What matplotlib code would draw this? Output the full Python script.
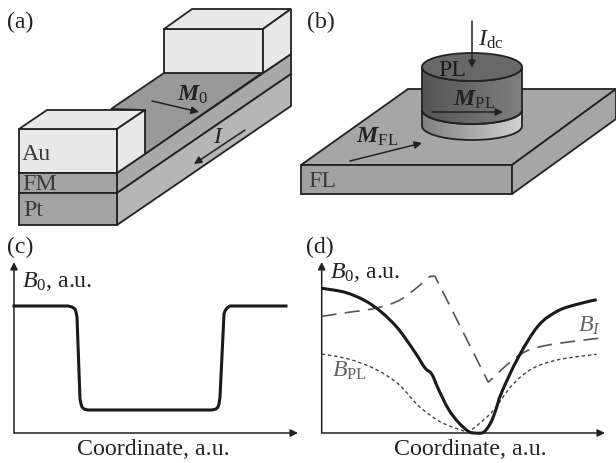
import numpy as np
import matplotlib
matplotlib.use('Agg')
import matplotlib.pyplot as plt
from matplotlib.patches import Polygon, Ellipse, PathPatch
from matplotlib.path import Path

plt.rcParams['font.family'] = ['Liberation Serif', 'DejaVu Serif']
plt.rcParams['mathtext.fontset'] = 'custom'
plt.rcParams['mathtext.rm'] = 'Liberation Serif'
plt.rcParams['mathtext.it'] = 'Liberation Serif:italic'
plt.rcParams['mathtext.bf'] = 'Liberation Serif:italic:bold'

# Curve in panel (c)
c_x = [0, 54, 58, 61, 62, 63, 66, 67, 68, 70, 74, 198, 202, 204, 205, 206, 210, 211, 213, 216, 272]
c_y = [127, 127, 126, 124, 121, 116, 34, 29, 26, 24, 23, 23, 24, 26, 29, 36, 119, 122, 125, 127, 127]

# Curves in panel (d)
total_x = [0, 70, 130, 180, 230, 280, 310, 330, 350, 380, 410, 440, 460, 485, 505,
           520, 540, 590, 650, 710, 770, 825]
total_y = [434, 422, 397, 362, 312, 242, 195, 177, 132, 72, 32, 5, 0, 2, 27,
           62, 122, 227, 322, 367, 387, 400]
current_x = [0, 80, 160, 240, 325, 340, 500, 590, 670, 830]
current_y = [350, 362, 374, 402, 470, 470, 152, 232, 262, 284]
pl_x = [0, 80, 160, 230, 290, 350, 400, 440, 510, 570, 630, 710, 825]
pl_y = [237, 222, 192, 147, 82, 37, 15, 2, 62, 142, 192, 220, 236]

# Panel (a) layers
au_color = '#e9e9e9'
fm_color = '#a4a4a4'
pt_color = '#b6b6b6'
top_color = '#999999'

fig = plt.figure(figsize=(6.16, 4.64), dpi=100)

# Overlay in pixel coordinates for the two sketches
ax = fig.add_axes([0, 0, 1, 1])
ax.set_xlim(0, 616)
ax.set_ylim(464, 0)
ax.axis('off')


def face(pts, color, lw=1.3):
    ax.add_patch(Polygon(pts, closed=True, facecolor=color, edgecolor='#222222', lw=lw))


def arrow(start, end, color='#222222', lw=1.1):
    ax.annotate('', xy=end, xytext=start,
                arrowprops=dict(arrowstyle='-|>', color=color, lw=lw, mutation_scale=11,
                                shrinkA=0, shrinkB=0), zorder=6)


def smooth_path(x, y, corners=()):
    # bezier through the read points, zero tangent at the corners
    p = np.column_stack([x, y]).astype(float)
    m = np.zeros_like(p)
    m[1:-1] = (p[2:] - p[:-2]) / 2
    for i in corners:
        m[i] = 0
    verts = [p[0]]
    codes = [Path.MOVETO]
    for i in range(len(p) - 1):
        verts += [p[i] + m[i] / 3, p[i + 1] - m[i + 1] / 3, p[i + 1]]
        codes += [Path.CURVE4] * 3
    return Path(verts, codes)


# Panel (a)
face([(117, 174), (291, 55), (291, 75), (117, 194)], '#a9a9a9')
face([(117, 194), (291, 75), (291, 107), (117, 226)], pt_color)
face([(111, 110), (164, 74), (262, 74), (145, 155), (145, 111)], top_color)
face([(164, 30), (263, 30), (263, 74), (164, 74)], au_color)
face([(164, 30), (192, 10), (291, 10), (263, 30)], au_color)
face([(263, 30), (291, 10), (291, 55), (263, 74)], au_color)
face([(19, 130), (117, 130), (117, 174), (19, 174)], au_color)
face([(19, 130), (47, 111), (145, 111), (117, 130)], au_color)
face([(117, 130), (145, 111), (145, 155), (117, 174)], au_color)
face([(19, 174), (117, 174), (117, 194), (19, 194)], fm_color)
face([(19, 194), (117, 194), (117, 226), (19, 226)], fm_color)
arrow((152, 102), (199, 113))
arrow((245, 131), (194, 165))

# Panel (b)
face([(301, 166), (408, 90), (616, 90), (512, 166)], '#a6a6a6')
face([(301, 166), (512, 166), (512, 195), (301, 195)], '#a2a2a2')
face([(512, 166), (616, 90), (616, 120), (512, 195)], '#a6a6a6')

cx, rx, ry = 472, 50, 14


def cylinder_part(y_top, y_bottom, left, right):
    # body with a horizontal grey gradient, clipped to the cylinder outline
    t = np.linspace(np.pi, 2 * np.pi, 40)
    verts = [(cx - rx, y_top)] + [(cx - rx, y_bottom)]
    verts += [(cx + rx * np.cos(a), y_bottom - ry * np.sin(a)) for a in t]
    verts += [(cx + rx, y_top)]
    t2 = np.linspace(0, np.pi, 40)
    verts += [(cx + rx * np.cos(a), y_top + ry * np.sin(a)) for a in t2]
    patch = Polygon(verts, closed=True, facecolor='none', edgecolor='#222222', lw=1.3, zorder=4)
    grad = np.linspace(left, right, 100).reshape(1, -1)
    im = ax.imshow(grad, extent=[cx - rx, cx + rx, y_bottom + ry + 1, y_top], cmap='gray',
                   vmin=0, vmax=1, aspect='auto', zorder=3)
    ax.add_patch(patch)
    im.set_clip_path(patch)


cylinder_part(111, 127, 0.50, 0.82)
cylinder_part(68, 111, 0.33, 0.50)
ax.add_patch(Ellipse((cx, 68), 2 * rx, 2 * ry, facecolor='#686868', edgecolor='#222222',
                     lw=1.3, zorder=5))
ax.set_xlim(0, 616)
ax.set_ylim(464, 0)
arrow((472, 22), (472, 69))
arrow((432, 113), (503, 113))
arrow((350, 162), (422, 144))

# Panel letters and labels
dark = '#3a3a3a'
fs = 17.2
for x, y, s in [(7, 22, '(a)'), (307, 22, '(b)'), (7, 247, '(c)'), (306, 247, '(d)')]:
    ax.text(x, y, s, fontsize=fs, va='center', color='#222222', zorder=7)
for x, y, s in [(22, 155, 'Au'), (22, 185, 'FM'), (23, 211, 'Pt'), (308, 182, 'FL')]:
    ax.text(x, y, s, fontsize=fs, va='center', color=dark, zorder=7)
ax.text(438, 70, 'PL', fontsize=fs, va='center', color='#1c1c1c', zorder=7)
for x, y, s in [(177, 95, r'$\mathbf{M}_0$'), (213, 138, r'$I$'), (478, 40, r'$I_{\mathrm{dc}}$'),
                (453, 100, r'$\mathbf{M}_{\mathrm{PL}}$'), (356, 137, r'$\mathbf{M}_{\mathrm{FL}}$')]:
    ax.text(x, y, s, fontsize=fs, va='center', color='#222222', zorder=7)
for x, s in [(153, 'Coordinate, a.u.'), (470, 'Coordinate, a.u.')]:
    ax.text(x, 450, s, fontsize=fs, ha='center', va='center', color='#222222', zorder=7)
ax.text(22, 282, r'$B_0$, a.u.', fontsize=fs, va='center', color='#222222', zorder=7)
ax.text(330, 273, r'$B_0$, a.u.', fontsize=fs, va='center', color='#222222', zorder=7)
ax.text(578, 326, r'$B_I$', fontsize=fs, va='center', color='#666666', zorder=7)
ax.text(332, 371, r'$B_{\mathrm{PL}}$', fontsize=fs, va='center', color='#666666', zorder=7)

# Axes arrows
arrow((14, 434), (298, 434))
arrow((14, 434), (14, 263))
arrow((321.7, 434), (605, 434))
arrow((321.7, 434), (321.7, 263))

# Panel (c) plot
ax_c = fig.add_axes([14 / 616, 30 / 464, 284 / 616, 171 / 464], facecolor='none')
ax_c.set_xlim(0, 284)
ax_c.set_ylim(0, 171)
ax_c.axis('off')
ax_c.plot(c_x, c_y, color='#1a1a1a', lw=2.2, solid_joinstyle='round', clip_on=False)

# Panel (d) plot
ax_d = fig.add_axes([321.7 / 616, 30 / 464, 283.3 / 616, 171 / 464], facecolor='none')
ax_d.set_xlim(0, 850)
ax_d.set_ylim(0, 513)
ax_d.axis('off')
ax_d.add_patch(PathPatch(smooth_path(current_x, current_y, corners=(4, 5, 6)), facecolor='none',
                         edgecolor='#555555', lw=1.2, linestyle=(0, (9, 5)), clip_on=False))
ax_d.add_patch(PathPatch(smooth_path(pl_x, pl_y, corners=(7,)), facecolor='none',
                         edgecolor='#444444', lw=1.0, linestyle=(0, (2.5, 2)), clip_on=False))
ax_d.add_patch(PathPatch(smooth_path(total_x, total_y), facecolor='none', edgecolor='#1a1a1a',
                         lw=2.2, clip_on=False))

fig.savefig('out.png', dpi=100)
